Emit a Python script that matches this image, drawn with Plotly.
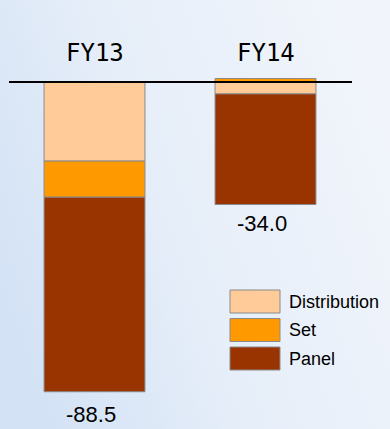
import base64
import plotly.graph_objects as go

categories = ["FY13", "FY14"]
series_names = ["Distribution", "Set", "Panel"]
distribution = [-22.6, -3.4]
set_vals = [-10.3, 1.0]
panel = [-55.6, -31.6]
totals = [-88.5, -34.0]
total_labels = ["-88.5", "-34.0"]

colors = ["#FFCC99", "#FF9900", "#993300"]
series_values = [distribution, set_vals, panel]

W, H = 390, 429

fig = go.Figure()
for name, vals, col in zip(series_names, series_values, colors):
    fig.add_trace(go.Bar(
        x=categories, y=vals, name=name, width=0.59,
        marker=dict(color=col, line=dict(color="#8a8a8a", width=1)),
        showlegend=False, hoverinfo="skip",
    ))

# gradient background
svg = ('<svg xmlns="http://www.w3.org/2000/svg" width="390" height="429">'
       '<defs><linearGradient id="g" x1="0" y1="0.7" x2="1" y2="0.3">'
       '<stop offset="0" stop-color="#d3e2f5"/>'
       '<stop offset="0.45" stop-color="#e6eef9"/>'
       '<stop offset="1" stop-color="#f1f5fb"/>'
       '</linearGradient></defs>'
       '<rect width="390" height="429" fill="url(#g)"/></svg>')
src = "data:image/svg+xml;base64," + base64.b64encode(svg.encode()).decode()

annotations = []
for c in categories:
    annotations.append(dict(x=c, xref="x", y=1 - 37 / H, yref="paper",
                            text=c, showarrow=False,
                            font=dict(family="DejaVu Sans Mono", size=24, color="#000")))
for c, t, lab in zip(categories, totals, total_labels):
    annotations.append(dict(x=c, xref="x", y=t, yref="y", text=lab,
                            showarrow=False, yanchor="top", yshift=-8, xshift=-4,
                            font=dict(family="Liberation Sans, Arial", size=22, color="#000")))

shapes = [dict(type="line", xref="paper", yref="y", x0=9 / W, x1=352 / W, y0=0, y1=0,
               line=dict(color="#000", width=2), layer="above")]

# custom legend
row_top = [290, 318.5, 347]
for name, col, top in zip(series_names, colors, row_top):
    shapes.append(dict(type="rect", xref="paper", yref="paper",
                       x0=230 / W, x1=280 / W, y0=1 - (top + 23) / H, y1=1 - top / H,
                       fillcolor=col, line=dict(color="#8a8a8a", width=1)))
    annotations.append(dict(x=287 / W, xref="paper", y=1 - (top + 11.5) / H, yref="paper",
                            text=name, showarrow=False, xanchor="left", yanchor="middle",
                            font=dict(family="Liberation Sans, Arial", size=18, color="#000")))

fig.update_layout(
    width=W, height=H, margin=dict(l=0, r=0, t=0, b=0),
    barmode="relative",
    paper_bgcolor="#eef3fa", plot_bgcolor="rgba(0,0,0,0)",
    xaxis=dict(range=[-94.5 / 171, (W - 94.5) / 171], visible=False, domain=[0, 1]),
    yaxis=dict(range=[-(H - 82) / 3.5, 82 / 3.5], visible=False, domain=[0, 1]),
    images=[dict(source=src, xref="paper", yref="paper", x=0, y=1, sizex=1, sizey=1,
                 sizing="stretch", xanchor="left", yanchor="top", layer="below")],
    shapes=shapes, annotations=annotations,
)

fig.write_html("out.html")
